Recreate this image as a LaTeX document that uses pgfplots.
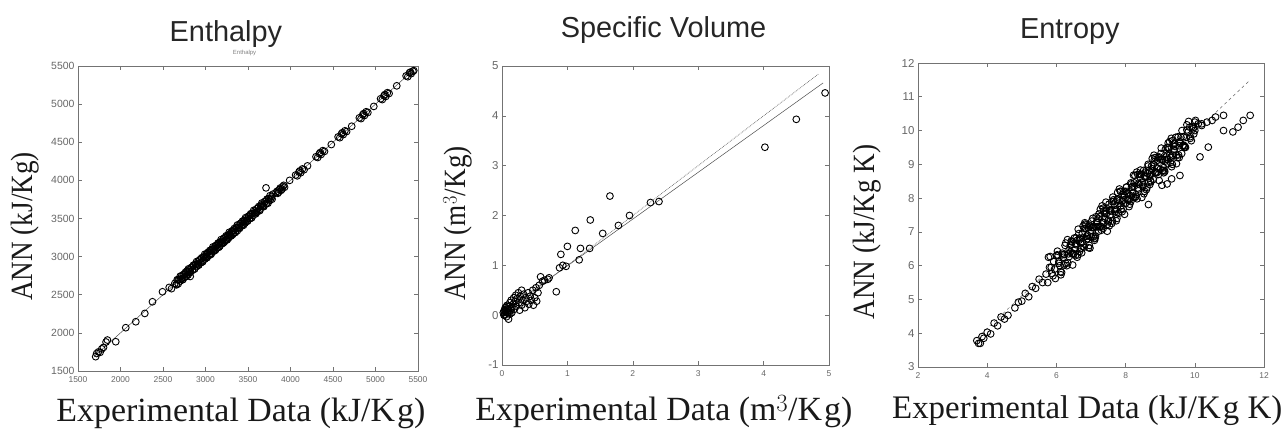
\documentclass[border=0pt]{standalone}
\usepackage{pgfplots}
\pgfplotsset{compat=1.18}
\usepackage{fontspec}
\setmainfont{Liberation Serif}
\newfontfamily\sansf{Liberation Sans}

\pgfplotsset{
  panel/.style={
    scale only axis,
    clip=false,
    axis line style={draw=black!55, line width=0.7bp},
    every tick/.style={draw=black!55, line width=0.6bp},
    major tick length=4bp,
    tick align=inside,
    xticklabel style={font=\sansf\fontsize{8.5}{10}\selectfont, text=black!60, yshift=-2bp},
    yticklabel style={font=\sansf\fontsize{11.5}{12}\selectfont, text=black!60},
    /pgf/number format/assume math mode=true,
    /pgf/number format/1000 sep={},
    title style={font=\sansf\fontsize{29}{34}\selectfont, text=black!85, anchor=base},
    xlabel style={font=\fontsize{34}{40}\selectfont, anchor=base, text=black!90},
    ylabel style={font=\fontsize{31}{36}\selectfont, anchor=center, text=black!90},
  },
  pts/.style={only marks, mark=o, mark size=3.4bp, black, mark options={line width=0.9bp}},
}

\begin{document}
\begin{tikzpicture}
\useasboundingbox (0,0) rectangle (1287bp,430bp);

% ---------------- Enthalpy ----------------
\begin{axis}[panel,
  at={(78bp,59bp)}, anchor=south west,
  width=340bp, height=305bp,
  xmin=1500, xmax=5500, ymin=1500, ymax=5500,
  xtick={1500,2000,...,5500}, ytick={1500,2000,...,5500},
  yticklabel style={font=\sansf\fontsize{10.5}{12}\selectfont},
  title={Enthalpy},
  title style={at={(axis description cs:0.435,1.062)}},
  xlabel={Experimental Data (kJ/K\kern2bp g)},
  xlabel style={at={(axis description cs:0.479,-0.164)}},
  ylabel={\scalebox{0.88}[1]{ANN (kJ/Kg)}},
  ylabel style={at={(axis description cs:-0.156,0.474)}},
]
\addplot[no marks, black!70, line width=0.5bp] coordinates {(1690,1690) (5450,5450)};
\addplot[pts] coordinates {
(1708,1688) (1720,1730) (1740,1750) (1760,1745) (1780,1790) (1800,1810)
(1846,1906) (1830,1880) (1944,1884) (2062,2068) (2180,2146) (2286,2255)
(2376,2408) (2494,2539) (2573,2596) (2600,2580)
(2640,2650) (2660,2630) (2680,2700) (2700,2680) (2720,2750) (2735,2700)
(2750,2770) (2765,2740) (2780,2810) (2795,2760) (2810,2830) (2820,2740)
(2830,2850) (2845,2820) (2860,2880) (2870,2840) (2885,2900) (2895,2870)
(2910,2930) (2920,2890) (2935,2960) (2945,2920) (2960,2980) (2970,2950)
(2985,3000) (2995,2970) (3010,3030) (3020,2990) (3035,3060) (3045,3020)
(3060,3080) (3070,3040) (3085,3100) (3095,3070) (3110,3130) (3120,3090)
(3135,3150) (3145,3120) (3160,3180) (3170,3140) (3185,3200) (3195,3170)
(3210,3230) (3220,3190) (3235,3250) (3245,3220) (3260,3280) (3270,3240)
(3285,3300) (3295,3270) (3310,3330) (3320,3290) (3335,3350) (3345,3320)
(3360,3380) (3375,3340) (3390,3410) (3405,3380) (3420,3440) (3435,3410)
(3450,3470) (3465,3440) (3480,3500) (3495,3470) (3510,3530) (3525,3500)
(3540,3560) (3560,3540) (3580,3600) (3600,3580) (3620,3640) (3640,3620)
(3660,3680) (3680,3660) (3700,3720) (3720,3700) (3740,3760) (3760,3740)
(3780,3790) (3712,3902)
(2655,2635) (2667,2697) (2679,2644) (2691,2701) (2703,2743) (2715,2710)
(2727,2697) (2739,2764) (2751,2731) (2763,2793) (2775,2740) (2787,2797)
(2799,2839) (2811,2806) (2823,2793) (2835,2860) (2847,2827) (2859,2889)
(2871,2836) (2883,2893) (2895,2935) (2907,2902) (2919,2889) (2931,2956)
(2943,2923) (2955,2985) (2967,2932) (2979,2989) (2991,3031) (3003,2998)
(3015,2985) (3027,3052) (3039,3019) (3051,3081) (3063,3028) (3075,3085)
(3087,3127) (3099,3094) (3111,3081) (3123,3148) (3135,3115) (3147,3177)
(3159,3124) (3171,3181) (3183,3223) (3195,3190) (3207,3177) (3219,3244)
(3231,3211) (3243,3273) (3255,3220) (3267,3277) (3279,3319) (3291,3286)
(3303,3273) (3315,3340) (3327,3307) (3339,3369) (3351,3316) (3363,3373)
(3375,3415) (3387,3382) (3399,3369) (3411,3436) (3423,3403) (3435,3465)
(3447,3412) (3459,3469) (3471,3511) (3483,3478) (3495,3465) (3507,3532)
(3519,3499) (3531,3561) (3543,3508) (3555,3565) (3567,3607) (3579,3574)
(3591,3561) (3603,3628) (3615,3595) (3627,3657) (3639,3604) (3651,3661)
(3663,3703) (3675,3670) (3687,3657) (3699,3724) (3711,3691) (3723,3753)
(3735,3700) (3747,3757) (3759,3799) (3771,3766) (3783,3753) (3795,3820)
(3830,3840) (3850,3830) (3870,3880) (3890,3870) (3910,3920) (3930,3910) (3880,3900)
(3845,3860) (3900,3885) (3920,3935) (3860,3845)
(3990,4000)
(4060,4070) (4080,4060) (4100,4110) (4120,4100) (4140,4150) (4160,4140) (4110,4125)
(4200,4190)
(4300,4310) (4320,4300) (4340,4350) (4360,4340) (4380,4390) (4400,4380) (4350,4365)
(4480,4470)
(4560,4570) (4580,4560) (4600,4610) (4620,4600) (4640,4650) (4660,4640) (4610,4625)
(4720,4710)
(4810,4820) (4830,4810) (4850,4860) (4870,4850) (4890,4900) (4910,4890) (4860,4875)
(4980,4970)
(5060,5070) (5080,5060) (5100,5110) (5120,5100) (5140,5150) (5160,5140) (5110,5125)
(5250,5240)
(5360,5370) (5380,5360) (5400,5410) (5420,5400) (5440,5430) (5450,5440) (5410,5420)
};
\node[font=\sansf\fontsize{6}{7}\selectfont, text=black!50] at (axis description cs:0.49,1.043) {Enthalpy};
\end{axis}

% ---------------- Specific Volume ----------------
\begin{axis}[panel,
  at={(502bp,65bp)}, anchor=south west,
  width=327bp, height=299bp,
  xmin=0, xmax=5, ymin=-1, ymax=5,
  xtick={0,1,...,5}, ytick={-1,0,...,5},
  title={Specific Volume},
  title style={at={(axis description cs:0.494,1.074)}},
  xlabel={Experimental Data (m$^3$/K\kern2bp g)},
  xlabel style={at={(axis description cs:0.495,-0.186)}},
  ylabel={\scalebox{0.88}[1]{ANN (m$^3$/Kg)}},
  ylabel style={at={(axis description cs:-0.135,0.473)}},
]
\addplot[no marks, black!60, densely dotted, line width=0.7bp] coordinates {(0,0) (4.84,4.84)};
\addplot[no marks, black!70, line width=0.5bp] coordinates {(0,0.05) (4.91,4.66)};
\addplot[pts] coordinates {
(0.02,0.05) (0.03,0.0) (0.04,0.1) (0.05,0.02) (0.05,0.15) (0.06,0.08)
(0.07,-0.03) (0.08,0.12) (0.08,0.2) (0.09,0.05) (0.1,0.1) (0.1,-0.08)
(0.11,0.18) (0.12,0.02) (0.12,0.25) (0.13,0.1) (0.14,0.3) (0.15,0.15)
(0.15,0.05) (0.17,0.22) (0.18,0.35) (0.19,0.12) (0.2,0.28) (0.21,0.4)
(0.22,0.18) (0.23,0.33) (0.25,0.45) (0.26,0.25) (0.27,0.1) (0.28,0.38)
(0.3,0.5) (0.3,0.2) (0.32,0.3) (0.33,0.42) (0.35,0.15) (0.36,0.35)
(0.38,0.28) (0.4,0.45) (0.41,0.22) (0.43,0.38) (0.45,0.3) (0.47,0.5)
(0.48,0.2) (0.5,0.35) (0.52,0.55) (0.53,0.28) (0.55,0.45) (0.57,0.6)
(0.04,0.0) (0.06,0.12) (0.03,0.08) (0.07,0.18) (0.09,0.1) (0.11,0.05)
(0.59,0.77) (0.62,0.68) (0.65,0.7) (0.7,0.72) (0.72,0.75)
(0.83,0.47) (0.88,0.95) (0.9,1.22) (0.93,1.0) (0.98,0.98) (1.0,1.38)
(1.12,1.70) (1.18,1.11) (1.2,1.34) (1.34,1.34) (1.35,1.91) (1.54,1.64)
(1.65,2.39) (1.78,1.80) (1.95,2.0) (2.27,2.26) (2.40,2.28)
(4.02,3.37) (4.50,3.93) (4.94,4.46)
};
\end{axis}

% ---------------- Entropy ----------------
\begin{axis}[panel,
  at={(918bp,63bp)}, anchor=south west,
  width=346bp, height=304bp,
  xmin=2, xmax=12, ymin=3, ymax=12,
  xtick={2,4,...,12}, ytick={3,4,...,12},
  title={Entropy},
  title style={at={(axis description cs:0.439,1.062)}},
  xlabel={Experimental Data (kJ/K\kern2bp g K)},
  xlabel style={at={(axis description cs:0.489,-0.168)}, font=\fontsize{33}{40}\selectfont},
  ylabel={\scalebox{0.88}[1]{ANN (kJ/Kg K)}},
  ylabel style={at={(axis description cs:-0.147,0.444)}},
]
\addplot[no marks, black!60, dashed, line width=0.5bp] coordinates {(3.7,3.85) (11.55,11.45)};
\addplot[pts] coordinates {
(3.7,3.78) (3.75,3.7) (3.8,3.7) (3.85,3.9) (3.9,3.85) (4.0,4.03) (4.1,3.98)
(4.2,4.3) (4.3,4.22) (4.4,4.48) (4.5,4.42) (4.6,4.53) (4.8,4.75) (4.9,4.92)
(5.0,4.95) (5.1,5.18) (5.2,5.08) (5.3,5.38) (5.4,5.33) (5.5,5.6) (5.6,5.5)
(5.7,5.75) (5.77,6.25)
(5.8,5.95) (5.9,5.7) (6.0,6.3) (6.1,6.0) (6.2,6.25) (6.3,6.0) (6.4,6.6)
(6.5,6.35) (6.6,6.75) (6.7,6.5) (6.8,7.1) (6.9,6.8) (7.0,7.05) (7.1,6.8)
(7.2,7.4) (7.3,7.15) (7.4,7.55) (7.5,7.3) (7.6,7.9) (7.7,7.6) (7.8,7.85)
(7.9,7.6) (8.0,8.2) (8.1,7.95) (8.2,8.35) (8.3,8.1) (8.4,8.7) (8.5,8.4)
(8.6,8.65) (8.7,8.4) (8.8,9.0) (8.9,8.75) (9.0,9.15) (9.1,8.9) (9.2,9.5)
(9.3,9.2) (9.4,9.45) (9.5,9.2) (9.6,9.8) (9.7,9.55) (9.8,9.95) (9.9,9.7)
(10.0,10.25) (10.1,10.2) (10.2,10.15)
(5.75,5.5) (5.85,5.95) (5.95,5.9) (6.05,6.3) (6.15,5.8) (6.25,6.6) (6.35,6.35)
(6.45,6.35) (6.55,6.3) (6.65,6.75) (6.75,6.7) (6.85,7.1) (6.95,6.6) (7.05,7.4)
(7.15,7.15) (7.25,7.15) (7.35,7.1) (7.45,7.55) (7.55,7.5) (7.65,7.9) (7.75,7.4)
(7.85,8.2) (7.95,7.95) (8.05,7.95) (8.15,7.9) (8.25,8.35) (8.35,8.3) (8.45,8.7)
(8.55,8.2) (8.65,9.0) (8.75,8.75) (8.85,8.75) (8.95,8.7) (9.05,9.15) (9.15,9.1)
(9.25,9.5) (9.35,9.0) (9.45,9.8) (9.55,9.55) (9.65,9.55) (9.75,9.8) (9.85,10.1)
(9.95,10.05)
(6.03,6.43) (6.13,5.73) (6.23,6.33) (6.33,6.08) (6.43,6.73) (6.53,6.48) (6.63,7.08)
(6.73,6.38) (6.83,7.23) (6.93,6.53) (7.03,7.13) (7.13,6.88) (7.23,7.53) (7.33,7.28)
(7.43,7.88) (7.53,7.18) (7.63,8.03) (7.73,7.33) (7.83,7.93) (7.93,7.68) (8.03,8.33)
(8.13,8.08) (8.23,8.68) (8.33,7.98) (8.43,8.83) (8.53,8.13) (8.63,8.73) (8.73,8.48)
(8.83,9.13) (8.93,8.88) (9.03,9.48) (9.13,8.78) (9.23,9.63) (9.33,8.93) (9.43,9.53)
(9.53,9.28) (9.63,10.0) (9.73,9.5)
(6.07,6.07) (6.17,6.37) (6.27,6.07) (6.37,6.47) (6.47,6.37) (6.57,6.82) (6.67,6.42)
(6.77,6.82) (6.87,6.87) (6.97,7.17) (7.07,6.87) (7.17,7.27) (7.27,7.17) (7.37,7.62)
(7.47,7.22) (7.57,7.62) (7.67,7.67) (7.77,7.97) (7.87,7.67) (7.97,8.07) (8.07,7.97)
(8.17,8.42) (8.27,8.02) (8.37,8.42) (8.47,8.47) (8.57,8.77) (8.67,8.47) (8.77,8.87)
(8.87,8.77) (8.97,9.22) (9.07,8.82) (9.17,9.22) (9.27,9.27) (9.37,9.57) (9.47,9.27)
(9.57,9.67) (9.67,9.57) (9.77,10.02) (9.87,9.82) (9.97,10.1)
(5.82,6.27) (5.87,5.77) (5.92,6.12) (5.97,5.62) (6.02,6.32) (6.07,6.12) (6.12,5.82)
(6.17,6.32) (6.22,6.02) (6.27,6.67) (6.32,6.77) (6.37,6.27) (6.42,6.62) (6.47,6.02)
(6.52,6.82) (6.57,6.62) (6.62,6.32) (6.67,6.82) (6.72,6.52) (6.77,7.17) (6.82,7.27)
(6.87,6.77) (6.92,7.12) (6.97,6.52) (7.02,7.32) (7.07,7.12) (7.12,6.82) (7.17,7.32)
(7.22,7.02) (7.27,7.67) (7.32,7.77) (7.37,7.27) (7.42,7.62) (7.47,7.02) (7.52,7.82)
(7.57,7.62) (7.62,7.32) (7.67,7.82) (7.72,7.52) (7.77,8.17) (7.82,8.27) (7.87,7.77)
(7.92,8.12) (7.97,7.52) (8.02,8.32) (8.07,8.12) (8.12,7.82) (8.17,8.32) (8.22,8.02)
(8.27,8.67) (8.32,8.77) (8.37,8.27) (8.42,8.62) (8.47,8.02) (8.52,8.82) (8.57,8.62)
(8.62,8.32) (8.67,8.82) (8.72,8.52) (8.77,9.17) (8.82,9.27) (8.87,8.77) (8.92,9.12)
(8.97,8.52) (9.02,9.32) (9.07,9.12) (9.12,8.82) (9.17,9.32) (9.22,9.02) (9.27,9.67)
(9.32,9.77) (9.37,9.27) (9.42,9.62) (9.47,9.02) (9.52,9.82) (9.57,9.62) (9.62,9.32)
(9.67,9.82) (9.72,9.52) (9.77,10.17) (9.82,10.27) (9.87,9.77) (9.92,10.12) (9.97,9.9)
(10.02,10.3)
(6.40,6.40) (6.45,6.70) (6.50,6.35) (6.55,6.65) (6.60,6.25) (6.65,6.95) (6.70,6.65)
(6.75,6.95) (6.80,6.55) (6.85,7.20) (6.90,6.90) (6.95,7.20) (7.00,6.85) (7.05,7.15)
(7.10,6.75) (7.15,7.45) (7.20,7.15) (7.25,7.45) (7.30,7.05) (7.35,7.70) (7.40,7.40)
(7.45,7.70) (7.50,7.35) (7.55,7.65) (7.60,7.25) (7.65,7.95) (7.70,7.65) (7.75,7.95)
(7.80,7.55) (7.85,8.20) (7.90,7.90) (7.95,8.20) (8.00,7.85) (8.05,8.15) (8.10,7.75)
(8.15,8.45) (8.20,8.15) (8.25,8.45) (8.30,8.05) (8.35,8.70) (8.40,8.40) (8.45,8.70)
(8.50,8.35) (8.55,8.65) (8.60,8.25) (8.65,8.95) (8.70,8.65) (8.75,8.95) (8.80,8.55)
(8.85,9.20) (8.90,8.90) (8.95,9.20) (9.00,8.85) (9.05,9.15) (9.10,8.75) (9.15,9.45)
(9.20,9.15) (9.25,9.45) (9.30,9.05) (9.35,9.70) (9.40,9.40)
(8.66,7.81) (9.05,8.38) (9.2,8.42) (9.33,8.57) (9.57,8.67) (9.55,9.2) (9.7,9.5)
(10.15,9.22) (10.39,9.51) (10.83,10.0) (11.1,9.96) (11.25,10.1) (11.4,10.3)
(11.6,10.45) (10.83,10.45) (10.6,10.4) (10.35,10.25) (10.5,10.3) (10.2,10.2) (10.0,10.0)
};
\end{axis}
\end{tikzpicture}
\end{document}
